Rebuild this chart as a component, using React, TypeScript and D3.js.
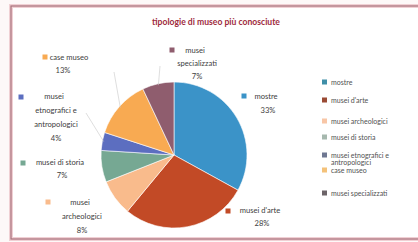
import React, { useEffect, useRef } from 'react';
import * as d3 from 'd3';

// chart data
const categories = [
  'mostre',
  "musei d'arte",
  'musei archeologici',
  'musei di storia',
  'musei etnografici e antropologici',
  'case museo',
  'musei specializzati',
];
const values = [33, 28, 8, 7, 4, 13, 7];
const sliceColors = ['#3b93c8', '#c24a26', '#f9bb8c', '#76a893', '#5c6ec0', '#f8aa52', '#8f5d6e'];
const legendColors = ['#3f8fa8', '#9a4a34', '#f8c6a6', '#a6b8ae', '#6f7892', '#f4c27a', '#6c6468'];
const legendLabels = ['mostre', "musei d'arte", 'musei archeologici', 'musei di storia', 'musei etnografici e', 'antropologici', 'case museo', 'musei specializzati'];
const title = 'tipologie di museo più conosciute';

// data label blocks: text lines per slice
const labelLines = [
  ['mostre', '33%'],
  ["musei d'arte", '28%'],
  ['musei', 'archeologici', '8%'],
  ['musei di storia', '7%'],
  ['musei', 'etnografici e', 'antropologici', '4%'],
  ['case museo', '13%'],
  ['musei', 'specializzati', '7%'],
];

const W = 418;
const H = 242;

const App: React.FC = () => {
  const svgRef = useRef<SVGSVGElement | null>(null);

  useEffect(() => {
    if (!svgRef.current) return;
    const svg = d3.select(svgRef.current);
    svg.selectAll('*').remove();
    const font = 'Lato, "Open Sans", sans-serif';

    svg.append('rect').attr('width', W).attr('height', H).attr('fill', '#fdf8f8');
    // frame
    svg.append('rect')
      .attr('x', 11).attr('y', 6).attr('width', W).attr('height', 233)
      .attr('fill', '#ffffff').attr('stroke', '#f0d0d4').attr('stroke-width', 4);
    svg.append('rect')
      .attr('x', 11).attr('y', 6).attr('width', W).attr('height', 233)
      .attr('fill', 'none').attr('stroke', '#a8707a').attr('stroke-width', 1.2);

    svg.append('text')
      .attr('x', 216).attr('y', 25)
      .attr('text-anchor', 'middle')
      .attr('font-family', font).attr('font-weight', 'bold').attr('font-size', 8.6)
      .attr('fill', '#9e2a3c')
      .text(title);

    const cx = 174, cy = 155, r = 73;
    const pie = d3.pie<number>().sort(null).value(d => d)(values);
    const arc = d3.arc<d3.PieArcDatum<number>>().innerRadius(0).outerRadius(r);
    const g = svg.append('g').attr('transform', `translate(${cx},${cy})`);
    g.selectAll('path')
      .data(pie)
      .enter()
      .append('path')
      .attr('d', arc)
      .attr('fill', (_, i) => sliceColors[i])
      .attr('stroke', '#ffffff')
      .attr('stroke-width', 0.6)
      .append('title')
      .text((d, i) => `${categories[i]}: ${d.value}%`);

    // leader lines (label edge -> slice)
    const leaders: [number, number, number][] = [
      [6, 160, 66],
      [5, 114, 72],
      [4, 86, 113],
    ];
    const onArc = (i: number, f: number) => {
      const p = pie[i];
      const a = p.startAngle + (p.endAngle - p.startAngle) * f;
      return [cx + Math.sin(a) * r * 0.98, cy - Math.cos(a) * r * 0.98];
    };
    leaders.forEach(([i, x, y]) => {
      const [ex, ey] = onArc(i, 0.5);
      svg.append('path')
        .attr('d', `M${x},${y}L${ex},${ey}`)
        .attr('stroke', '#c8c8c8').attr('stroke-width', 0.6).attr('fill', 'none');
    });

    // data label layout: [marker x, marker y, text center x, first line y, line step]
    const labelPos: [number, number, number, number, number][] = [
      [244, 96, 266, 99, 14],
      [228, 211, 260, 213, 13],
      [48, 202, 80, 205, 14],
      [23, 163, 60, 165, 13],
      [21, 97, 54, 99, 14],
      [45, 57, 69, 60, 13],
      [172, 50, 195, 53, 13],
    ];
    labelLines.forEach((lines, i) => {
      const [mx, my, tx, ty, step] = labelPos[i];
      svg.append('rect')
        .attr('x', mx - 2.5).attr('y', my - 2.5).attr('width', 5).attr('height', 5)
        .attr('fill', sliceColors[i]);
      lines.forEach((t, k) => {
        svg.append('text')
          .attr('x', tx + (k === 0 ? 0 : (i === 5 ? -6 : 2))).attr('y', ty + k * step)
          .attr('text-anchor', 'middle')
          .attr('font-family', font).attr('font-size', 7.6)
          .attr('fill', '#404040')
          .text(t);
      });
    });

    // legend
    const legendY = [82, 100, 121, 137, 155, 162, 170, 193];
    const markerIdx = [0, 1, 2, 3, 4, -1, 5, 6];
    legendLabels.forEach((t, k) => {
      const mi = markerIdx[k];
      if (mi >= 0) {
        svg.append('rect')
          .attr('x', 322).attr('y', legendY[k] - 2.5).attr('width', 5).attr('height', 5)
          .attr('fill', legendColors[mi]);
      }
      svg.append('text')
        .attr('x', 331).attr('y', legendY[k] + 2.5)
        .attr('font-family', font).attr('font-size', 7)
        .attr('fill', '#505050')
        .text(t);
    });
  }, []);

  return (
    <div style={{ position: 'absolute', left: 0, top: 0, width: W, height: H }}>
      <svg ref={svgRef} width={W} height={H} style={{ display: 'block' }} />
    </div>
  );
};

export default App;
